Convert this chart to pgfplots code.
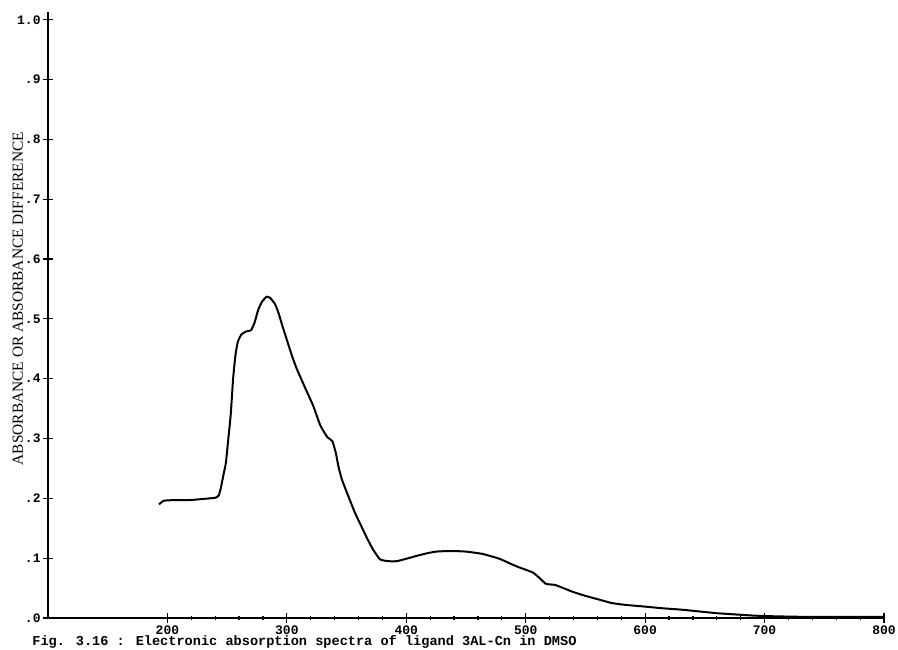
\documentclass[border=0pt]{standalone}
\usepackage{fontspec}
\setmainfont{Liberation Serif}
\newfontfamily\tw{Liberation Mono}
\usepackage{pgfplots}
\pgfplotsset{compat=1.18}

\begin{document}
\begin{tikzpicture}
\begin{axis}[
  scale only axis, width=418pt, height=303pt,
  xmin=100, xmax=800, ymin=0, ymax=1.013,
  axis x line=bottom, axis y line=left,
  axis line style={-, line width=0.7pt},
  xtick={200,300,400,500,600,700,800},
  xticklabels={200,300,400,500,600,700,800},
  minor x tick num=4,
  ytick={0,0.1,0.2,0.3,0.4,0.5,0.6,0.7,0.8,0.9,1.0},
  yticklabels={.0,.1,.2,.3,.4,.5,.6,.7,.8,.9,1.0},
  tick align=center, major tick length=5pt, minor tick length=2pt,
  tick style={black, line width=0.6pt},
  ticklabel style={font=\tw\bfseries\fontsize{6.5}{7}\selectfont},
  xticklabel style={inner sep=1pt},
  yticklabel style={inner sep=1pt},
  ylabel={ABSORBANCE OR ABSORBANCE DIFFERENCE},
  ylabel style={at={(rel axis cs:-0.036,0.527)}, anchor=center, font=\fontsize{7.7}{8}\selectfont},
  clip=false,
]
\addplot[black, line width=1pt, smooth, tension=0.3] coordinates {
(193,0.190) (197,0.196) (205,0.197) (218,0.197) (230,0.199) (240,0.201)
(243,0.205) (245,0.220) (247,0.240) (249,0.260) (251,0.300) (253,0.340)
(255,0.400) (257,0.440) (259,0.462) (262,0.474) (266,0.479) (270,0.481)
(273,0.494) (276,0.515) (279,0.528) (283,0.537) (286,0.535) (290,0.525)
(293,0.510) (296,0.490) (300,0.465) (304,0.440) (308,0.418) (315,0.386)
(322,0.355) (328,0.322) (334,0.302) (338,0.296) (341,0.276) (343,0.255)
(346,0.232) (351,0.206) (357,0.176) (362,0.155) (367,0.134) (372,0.115)
(378,0.098) (385,0.095) (392,0.095) (400,0.099) (409,0.104) (417,0.108)
(425,0.111) (437,0.112) (450,0.111) (464,0.107) (478,0.099) (487,0.091)
(494,0.085) (506,0.076) (512,0.066) (517,0.057) (525,0.055) (539,0.044)
(550,0.037) (561,0.031) (572,0.025) (583,0.022) (600,0.019) (616,0.016)
(630,0.014) (645,0.011) (660,0.008) (675,0.006) (691,0.004) (705,0.003)
(730,0.002) (760,0.002) (799,0.002)
};
\coordinate (O) at (rel axis cs:0,0);
\coordinate (T) at (rel axis cs:1,1);
\end{axis}
\node[anchor=north west, inner sep=0pt, font=\tw\bfseries\fontsize{6.8}{7}\selectfont]
  at ([shift={(-8pt,-8.5pt)}]O) {Fig. 3.16 : Electronic absorption spectra of ligand 3AL-Cn in DMSO};
\pgfresetboundingbox
\path ([shift={(-24pt,-16pt)}]O) rectangle ([shift={(7pt,6pt)}]T);
\end{tikzpicture}
\end{document}
